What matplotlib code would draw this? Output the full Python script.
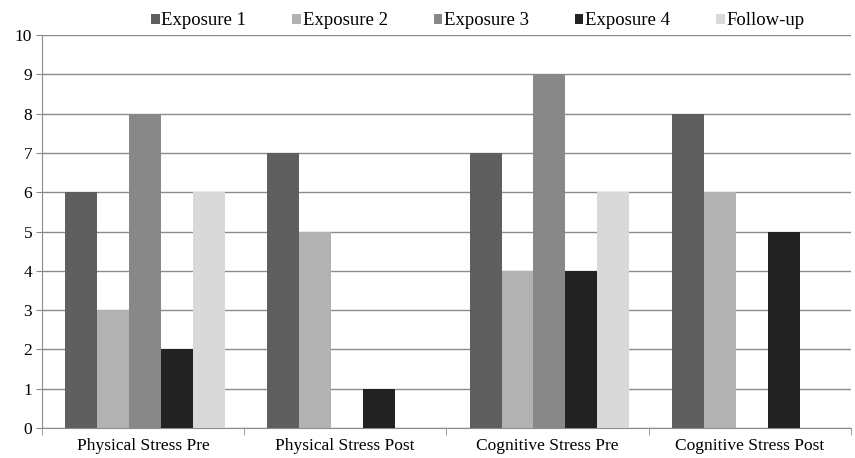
import numpy as np
import matplotlib
matplotlib.use("Agg")
import matplotlib.pyplot as plt
from matplotlib.patches import Patch

categories = ["Physical Stress Pre", "Physical Stress Post", "Cognitive Stress Pre", "Cognitive Stress Post"]
series_names = ["Exposure 1", "Exposure 2", "Exposure 3", "Exposure 4", "Follow-up"]
exposure1 = [6, 7, 7, 8]
exposure2 = [3, 5, 4, 6]
exposure3 = [8, 0, 9, 0]
exposure4 = [2, 1, 4, 5]
follow_up = [6, 0, 6, 0]
colors = ["#5f5f5f", "#b2b2b2", "#888888", "#222222", "#d9d9d9"]

plt.rcParams["font.family"] = ["Liberation Serif", "DejaVu Serif"]

fig = plt.figure(figsize=(8.55, 4.58), dpi=100)
ax = fig.add_axes([0.049, 0.0655, 0.946, 0.858])

series = [exposure1, exposure2, exposure3, exposure4, follow_up]
x = np.arange(len(categories))
w = 0.158
for i, vals in enumerate(series):
    ax.bar(x + 0.01 + (i - 2) * w, vals, width=w, color=colors[i], zorder=3, linewidth=0)

ax.set_xlim(-0.5, 3.5)
ax.set_ylim(0, 10)
ax.set_yticks(range(0, 11))
ax.yaxis.grid(True, color="#8c8c8c", linewidth=1.0, zorder=0)
ax.set_xticks(x)
ax.set_xticklabels(categories, fontsize=12.5)
ax.set_xticks(np.arange(-0.5, 4, 1), minor=True)
ax.tick_params(axis="x", which="major", length=0, pad=7)
ax.tick_params(axis="x", which="minor", length=5, color="#8c8c8c")
ax.tick_params(axis="y", length=4, color="#8c8c8c", labelsize=12.5, pad=3)
for s in ["top", "right"]:
    ax.spines[s].set_visible(False)
for s in ["left", "bottom"]:
    ax.spines[s].set_color("#8c8c8c")

handles = [Patch(facecolor=c, edgecolor="none") for c in colors]
fig.legend(handles, series_names, loc="upper left", bbox_to_anchor=(0.157, 1.01), ncol=5,
           frameon=False, fontsize=13.5, handlelength=0.45, handleheight=0.45,
           handletextpad=0.1, columnspacing=2.45)

fig.savefig("out.png", dpi=100)
